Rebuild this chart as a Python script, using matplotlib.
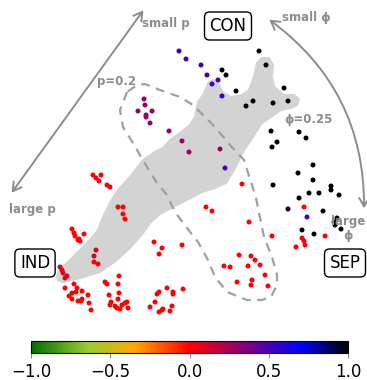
import numpy as np
import matplotlib
matplotlib.use("Agg")
import matplotlib.pyplot as plt
from matplotlib.colors import LinearSegmentedColormap
from matplotlib.patches import Polygon, FancyArrowPatch

# embedding coordinates (y grows downward) and the colour value of each point
black_x = [259, 266, 222, 226, 236, 284, 253, 246, 273, 288, 271, 299, 306, 277, 272,
           313, 298, 313, 273, 331, 331, 339, 309, 319, 299, 288, 323, 337, 334, 335,
           341, 302, 314]
black_y = [51, 65, 70, 75, 91, 88, 101, 106, 103, 101, 131, 132, 138, 142, 147,
           165, 173, 180, 185, 186, 190, 195, 193, 193, 198, 209, 211, 218, 222, 225,
           229, 230, 234]

blue_x = [179, 186, 201, 207, 218, 212, 222, 225, 307]
blue_y = [51, 59, 65, 75, 80, 84, 96, 168, 217]

purple_x = [144, 145, 138, 152, 146, 146, 150, 169, 182, 189, 220]
purple_y = [99, 105, 111, 111, 115, 117, 123, 131, 141, 152, 149]

ind_x = [60, 62, 63, 65, 67, 94, 96]
ind_y = [267, 270, 273, 278, 276, 256, 250]

red_x = [93, 96, 101, 99, 107, 110, 118, 123, 123, 125,
         72, 74, 75, 78, 80, 84, 79, 94, 98,
         154, 162, 159, 182, 206, 212, 242, 249, 272,
         239, 251, 255, 224, 230, 248, 260, 265, 237, 252, 251, 268,
         304, 325, 302, 304, 305, 296,
         65, 74, 77, 82, 76, 72, 69, 72, 78, 81, 82, 88, 89, 91,
         119, 105, 107, 118, 119, 109, 118, 111, 110, 115, 117, 120, 122, 125, 127, 128,
         167, 183, 159, 157, 173, 173, 155, 150, 159, 162, 163, 172, 170]
red_y = [175, 178, 175, 181, 185, 187, 207, 207, 214, 219,
         229, 233, 236, 240, 241, 234, 239, 262, 264,
         242, 248, 254, 245, 207, 211, 184, 222, 236,
         255, 256, 260, 266, 267, 266, 265, 275, 282, 280, 285, 286,
         207, 236, 238, 241, 245, 247,
         288, 284, 288, 291, 292, 293, 296, 299, 301, 301, 299, 295, 303, 310,
         276, 282, 284, 284, 293, 295, 299, 302, 305, 306, 308, 309, 305, 303, 302, 308,
         288, 289, 292, 294, 292, 294, 302, 307, 312, 310, 309, 306, 311]

groups = [(black_x, black_y, 1.0), (blue_x, blue_y, 0.52), (purple_x, purple_y, 0.28),
          (ind_x, ind_y, 0.08), (red_x, red_y, 0.0)]

# grey density region and the p=0.2 contour
blob_x = [57, 60, 70, 80, 90, 98, 103, 110, 118, 130, 143, 155, 163, 170, 180, 190, 195,
          198, 203, 209, 214, 219, 222, 231, 242, 249, 254, 257, 262, 269, 273, 272, 274,
          284, 294, 299, 297, 291, 281, 271, 262, 256, 251, 244, 239, 234, 226, 215, 202,
          187, 173, 160, 150, 143, 130, 117, 100, 80, 63, 58]
blob_y = [276, 270, 260, 250, 240, 230, 217, 203, 190, 177, 160, 152, 148, 140, 133, 125, 117,
          102, 95, 82, 80, 85, 92, 97, 95, 90, 77, 63, 58, 58, 65, 77, 87,
          95, 95, 99, 105, 108, 110, 117, 123, 132, 140, 150, 160, 170, 183, 188, 192,
          200, 207, 214, 223, 233, 248, 260, 272, 278, 282, 280]

loop_x = [127, 120, 123, 133, 147, 157, 167, 175, 187, 198, 208, 215, 227, 247, 262, 271,
          277, 277, 272, 264, 259, 256, 252, 244, 230, 215, 205, 193, 180, 160, 145, 137, 127]
loop_y = [92, 110, 127, 143, 167, 183, 195, 212, 228, 242, 260, 277, 292, 300, 300, 297,
          285, 275, 257, 237, 213, 198, 185, 160, 145, 127, 117, 105, 97, 90, 84, 85, 92]

cbar_ticks = [-1.0, -0.5, 0.0, 0.5, 1.0]

cmap = LinearSegmentedColormap.from_list(
    "gyr_bk",
    [(0.0, "#007000"), (0.18, "#9acd32"), (0.33, "#ffa500"), (0.5, "#ff0000"),
     (0.64, "#9a0060"), (0.85, "#0000ff"), (1.0, "#000000")])

fig = plt.figure(figsize=(3.67, 3.80), dpi=100)
ax = fig.add_axes([0, 0, 1, 1])
ax.set_xlim(0, 367)
ax.set_ylim(380, 0)
ax.axis("off")

ax.add_patch(Polygon(np.column_stack([blob_x, blob_y]), closed=True,
                     fc="#d3d3d3", ec="#d3d3d3", lw=1.5, joinstyle="round", zorder=1))
ax.plot(loop_x, loop_y, color="#a0a0a0", lw=1.6, dashes=(4, 3), zorder=2)

sc = None
for gx, gy, val in groups:
    sc = ax.scatter(gx, gy, c=[val] * len(gx), cmap=cmap, vmin=-1, vmax=1,
                    s=13, linewidths=0, zorder=3)

grey = "#8c8c8c"
ax.add_patch(FancyArrowPatch((145, 8), (10, 195), arrowstyle="<->,head_length=6,head_width=3.5",
                             color=grey, lw=1.4, zorder=2))
ax.add_patch(FancyArrowPatch((267, 18), (364, 211), arrowstyle="<->,head_length=6,head_width=3.5",
                             connectionstyle="arc3,rad=-0.26", color=grey, lw=1.4, zorder=2))

ann = dict(fontsize=8.5, color=grey, fontweight="bold", va="center")
ax.text(142, 24, "small p", ha="left", **ann)
ax.text(9, 210, "large p", ha="left", **ann)
ax.text(282, 18, "small ϕ", ha="left", **ann)
ax.text(365, 228, "large\nϕ", ha="right", multialignment="center", linespacing=1.1, **ann)
ax.text(97, 82, "p=0.2", ha="left", **ann)
ax.text(284, 120, "ϕ=0.25", ha="left", **ann)

box = dict(boxstyle="round,pad=0.3", fc="white", ec="black", lw=1)
ax.text(228, 26, "CON", fontsize=12, ha="center", va="center", bbox=box, zorder=5)
ax.text(35, 263, "IND", fontsize=12, ha="center", va="center", bbox=box, zorder=5)
ax.text(345, 263, "SEP", fontsize=12, ha="center", va="center", bbox=box, zorder=5)

cax = fig.add_axes([31 / 367, 1 - 353 / 380, 317 / 367, 12 / 380])
cb = fig.colorbar(sc, cax=cax, orientation="horizontal", ticks=cbar_ticks)
cb.ax.tick_params(labelsize=12, color="#888888")
cb.outline.set_linewidth(0.8)

fig.savefig("out.png", dpi=100)
